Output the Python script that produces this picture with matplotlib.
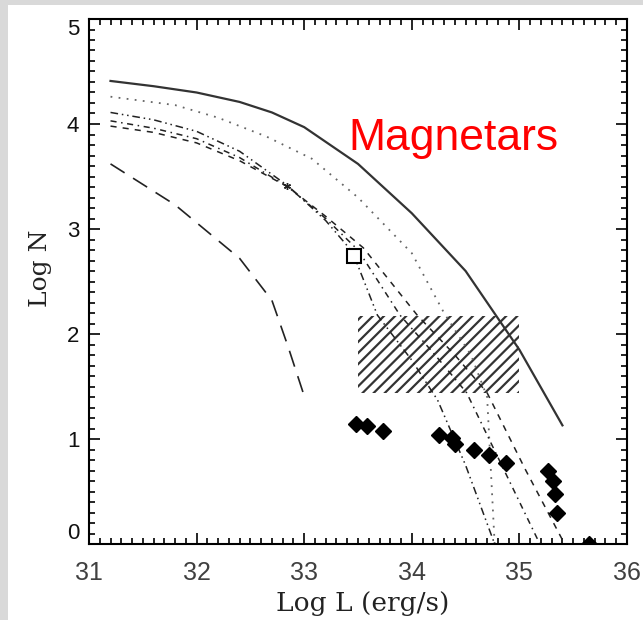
import matplotlib
matplotlib.use("Agg")
import matplotlib.pyplot as plt
from matplotlib.patches import Rectangle

# Cumulative luminosity functions (log L vs log N)
solid_x = [31.2, 31.6, 32.0, 32.4, 32.7, 33.0, 33.5, 34.0, 34.5, 34.8, 35.0, 35.4]
solid_y = [4.41, 4.36, 4.30, 4.21, 4.11, 3.97, 3.62, 3.15, 2.60, 2.15, 1.85, 1.13]

dotted_x = [31.2, 31.8, 32.2, 32.65, 33.07, 33.5, 34.0, 34.3, 34.55, 34.7, 34.77]
dotted_y = [4.26, 4.18, 4.06, 3.88, 3.67, 3.30, 2.77, 2.20, 1.80, 1.40, 0.0]

dd_x = [31.2, 31.6, 32.0, 32.4, 32.85, 33.2, 33.45, 33.68, 34.0, 34.24, 34.5, 34.77]
dd_y = [4.11, 4.04, 3.93, 3.74, 3.41, 3.08, 2.78, 2.18, 1.75, 1.37, 0.75, 0.0]

dashdot_x = [31.2, 31.6, 32.0, 32.4, 32.85, 33.2, 33.5, 33.89, 34.2, 34.51, 34.85, 35.19]
dashdot_y = [4.03, 3.96, 3.86, 3.68, 3.40, 3.10, 2.80, 2.18, 1.82, 1.44, 0.72, 0.0]

dashed_x = [31.2, 31.6, 32.0, 32.4, 32.85, 33.2, 33.55, 34.05, 34.4, 34.7, 35.05, 35.42]
dashed_y = [3.98, 3.92, 3.82, 3.65, 3.40, 3.12, 2.82, 2.18, 1.80, 1.44, 0.72, 0.0]

longdash_x = [31.2, 31.8, 32.4, 32.7, 32.85, 33.0]
longdash_y = [3.62, 3.23, 2.72, 2.32, 1.88, 1.41]

# Observed sources
diam_x = [33.48, 33.58, 33.73, 34.25, 34.37, 34.40, 34.58, 34.72, 34.88,
          35.27, 35.31, 35.33, 35.35, 35.65]
diam_y = [1.14, 1.12, 1.08, 1.04, 1.01, 0.95, 0.90, 0.85, 0.77,
          0.70, 0.60, 0.48, 0.30, 0.0]

square_x, square_y = [33.46], [2.74]
star_x, star_y = [32.84], [3.41]

# Magnetar region
box_x = (33.5, 35.0)
box_y = (1.44, 2.17)

x_ticks = [31, 32, 33, 34, 35, 36]
y_ticks = [0, 1, 2, 3, 4, 5]

plt.rcParams['hatch.linewidth'] = 1.6

fig = plt.figure(figsize=(6.43, 6.20), dpi=100, facecolor='white')
# grey frame strips along the left and top edges
fig.patches.append(Rectangle((0, 0), 8 / 643, 1, transform=fig.transFigure,
                             facecolor='#d9d9d9', edgecolor='none', zorder=-1))
fig.patches.append(Rectangle((0, 1 - 5 / 620), 1, 5 / 620, transform=fig.transFigure,
                             facecolor='#d9d9d9', edgecolor='none', zorder=-1))

ax = fig.add_axes([89 / 643, 76 / 620, 538 / 643, 525 / 620])
ax.set_facecolor('white')

ink = '#222222'
ax.plot(solid_x, solid_y, color='#333333', lw=1.6, ls='-')
ax.plot(dotted_x, dotted_y, color='#666666', lw=1.3, ls=(0, (1, 3.5)))
ax.plot(dd_x, dd_y, color=ink, lw=1.1, ls=(0, (5, 2.5, 1, 2.5, 1, 2.5)))
ax.plot(dashdot_x, dashdot_y, color=ink, lw=1.1, ls=(0, (4, 3, 1, 3)))
ax.plot(dashed_x, dashed_y, color=ink, lw=1.1, ls=(0, (4, 4)))
ax.plot(longdash_x, longdash_y, color=ink, lw=1.2, ls=(0, (10, 6)))

ax.add_patch(Rectangle((box_x[0], box_y[0]), box_x[1] - box_x[0], box_y[1] - box_y[0],
                       facecolor='none', edgecolor='#333333', lw=0, hatch='///'))

ax.plot(diam_x, diam_y, ls='none', marker='D', ms=8, color='black', clip_on=True)
ax.plot(square_x, square_y, ls='none', marker='s', ms=9.5, mfc='white',
        mec='black', mew=1.5)
ax.plot(star_x, star_y, ls='none', marker=(6, 2, 0), ms=5, color='#222222', mew=1.0)

ax.text(33.41, 3.75, 'Magnetars', color='#ff0000', fontsize=32,
        family='Liberation Sans', ha='left', va='baseline')

ax.set_xlim(31, 36)
ax.set_ylim(0, 5)
ax.set_xticks(x_ticks)
ax.set_yticks(y_ticks)
ax.set_xticklabels([str(t) for t in x_ticks])
ax.set_yticklabels([str(t) for t in y_ticks])
ax.xaxis.set_minor_locator(matplotlib.ticker.MultipleLocator(0.1))
ax.yaxis.set_minor_locator(matplotlib.ticker.MultipleLocator(0.1))
ax.tick_params(which='both', direction='in', top=True, right=True,
               color='black', width=1.2)
ax.tick_params(which='major', length=8)
ax.tick_params(which='minor', length=4.5)
ax.tick_params(axis='x', which='major', pad=12, labelsize=18, labelcolor='#404040')
ax.tick_params(axis='y', which='major', pad=7, labelsize=16, labelcolor='#111111')
for lab in ax.get_xticklabels() + ax.get_yticklabels():
    lab.set_family('Liberation Sans')
ylabs = ax.get_yticklabels()
ylabs[0].set_va('bottom')
ylabs[-1].set_va('top')

for sp in ax.spines.values():
    sp.set_linewidth(1.5)
    sp.set_color('black')

ax.set_xlabel('Log L (erg/s)', family='DejaVu Serif', fontsize=19, color='#222222')
ax.set_ylabel('Log N', family='DejaVu Serif', fontsize=18, color='#222222')
ax.xaxis.label.set_va('center')
ax.yaxis.label.set_va('center')
ax.xaxis.set_label_coords((363 - 89) / 538, (544 - 603) / 525)
ax.yaxis.set_label_coords((40 - 89) / 538, (544 - 268) / 525)

fig.savefig('out.png', dpi=100, facecolor=fig.get_facecolor())
